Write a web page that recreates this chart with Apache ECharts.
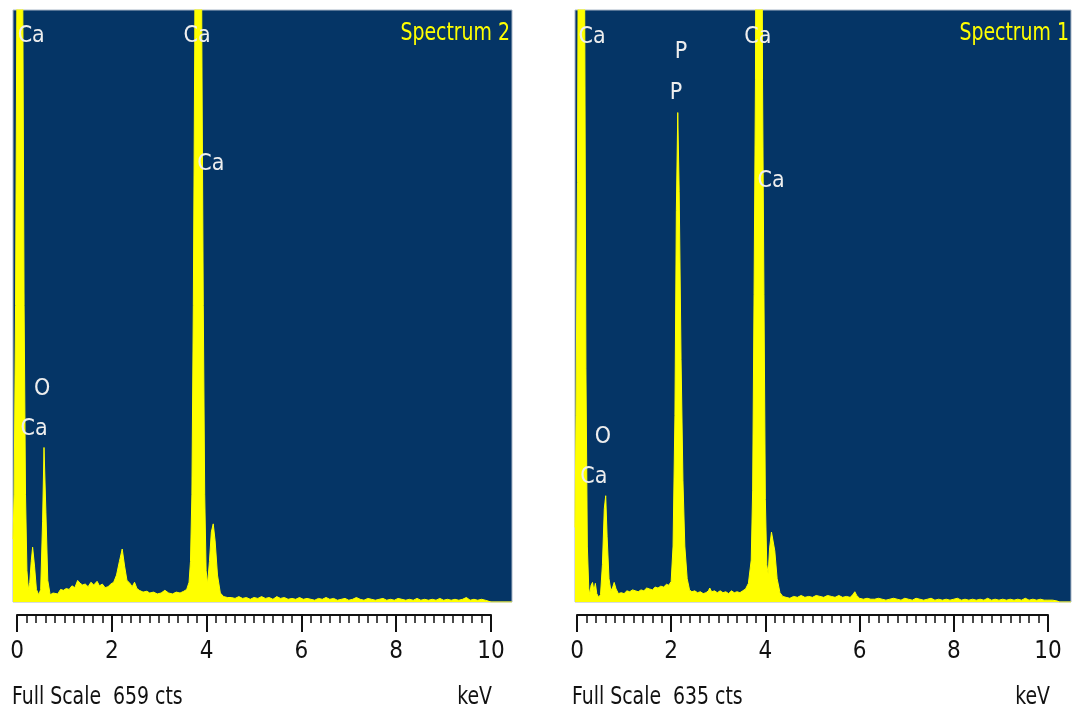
<!DOCTYPE html>
<html>
<head>
<meta charset="utf-8">
<title>EDS spectra</title>
<script src="https://cdn.jsdelivr.net/npm/echarts/dist/echarts.min.js"></script>
<style>
  html, body { margin: 0; padding: 0; background: #ffffff; }
  #chart { width: 1083px; height: 713px; }
</style>
</head>
<body>
<div id="chart"></div>
<script>
// Spectrum 2 (left panel): [keV, counts]
const spectrum2 = [
  [-0.084, 70], [-0.06, 120], [-0.03, 330], [0.0, 700], [0.03, 1150], [0.06, 1400], [0.09, 1150],
  [0.12, 700], [0.15, 330], [0.18, 120], [0.21, 35], [0.24, 14], [0.27, 22], [0.30, 45],
  [0.33, 61], [0.37, 40], [0.41, 14], [0.46, 8], [0.50, 14], [0.54, 90], [0.57, 172],
  [0.61, 100], [0.65, 24], [0.70, 8], [0.76, 10], [0.80, 12], [0.86, 9], [0.92, 14],
  [0.98, 13], [1.04, 15], [1.10, 14], [1.16, 18], [1.22, 16], [1.28, 24], [1.33, 21],
  [1.38, 19], [1.44, 20], [1.50, 17], [1.56, 22], [1.62, 19], [1.69, 23], [1.74, 18],
  [1.80, 20], [1.86, 16], [1.92, 17], [1.98, 20], [2.04, 22], [2.10, 30], [2.16, 45],
  [2.22, 59], [2.27, 40], [2.32, 24], [2.38, 21], [2.43, 17], [2.48, 22], [2.53, 15],
  [2.58, 13], [2.66, 11], [2.74, 12], [2.80, 10], [2.88, 11], [2.96, 9], [3.04, 10],
  [3.12, 13], [3.20, 10], [3.28, 9], [3.36, 11], [3.44, 10], [3.52, 12], [3.58, 14],
  [3.63, 22], [3.66, 45], [3.69, 120], [3.72, 330], [3.75, 620], [3.78, 1100], [3.81, 1400],
  [3.84, 1400], [3.87, 1100], [3.90, 620], [3.93, 330], [3.96, 120], [3.99, 35], [4.02, 20],
  [4.06, 45], [4.10, 78], [4.14, 87], [4.18, 68], [4.23, 30], [4.29, 10], [4.36, 6],
  [4.44, 5], [4.52, 5], [4.60, 4], [4.68, 6], [4.76, 4], [4.84, 5], [4.92, 3],
  [5.00, 5], [5.08, 4], [5.16, 6], [5.24, 4], [5.32, 5], [5.40, 3], [5.48, 6],
  [5.56, 4], [5.64, 5], [5.72, 3], [5.80, 4], [5.88, 3], [5.96, 5], [6.04, 3],
  [6.12, 4], [6.20, 3], [6.28, 2], [6.36, 4], [6.44, 3], [6.52, 5], [6.60, 3],
  [6.68, 4], [6.76, 2], [6.84, 3], [6.92, 4], [7.00, 2], [7.08, 3], [7.16, 5],
  [7.24, 3], [7.32, 2], [7.40, 4], [7.48, 3], [7.56, 2], [7.64, 3], [7.72, 4],
  [7.80, 2], [7.88, 3], [7.96, 2], [8.04, 4], [8.12, 3], [8.20, 2], [8.28, 3],
  [8.36, 2], [8.44, 4], [8.52, 2], [8.60, 3], [8.68, 2], [8.76, 3], [8.84, 2],
  [8.92, 4], [9.00, 2], [9.08, 3], [9.16, 2], [9.24, 3], [9.32, 2], [9.40, 3],
  [9.48, 5], [9.56, 2], [9.64, 3], [9.72, 2], [9.80, 3], [9.88, 2], [9.94, 1],
  [10.00, 0], [10.44, 0]
];

// Spectrum 1 (right panel): [keV, counts]
const spectrum1 = [
  [-0.042, 80], [-0.02, 200], [0.01, 450], [0.04, 900], [0.07, 1250], [0.10, 1400],
  [0.13, 1250], [0.16, 700], [0.19, 250], [0.22, 60], [0.25, 15], [0.27, 8], [0.30, 18], [0.33, 21],
  [0.36, 12], [0.39, 20], [0.42, 9], [0.46, 5], [0.50, 8], [0.54, 40], [0.58, 100],
  [0.61, 114], [0.64, 70], [0.68, 25], [0.72, 12], [0.76, 16], [0.79, 21], [0.83, 14],
  [0.88, 9], [0.94, 10], [1.00, 9], [1.06, 12], [1.12, 11], [1.18, 13], [1.24, 12],
  [1.30, 11], [1.36, 13], [1.42, 12], [1.48, 15], [1.54, 14], [1.60, 13], [1.66, 16],
  [1.72, 15], [1.78, 17], [1.84, 16], [1.90, 19], [1.95, 18], [2.00, 22], [2.04, 60],
  [2.08, 200], [2.11, 420], [2.14, 525], [2.17, 440], [2.21, 260], [2.25, 130], [2.29, 60],
  [2.34, 25], [2.39, 13], [2.44, 11], [2.50, 12], [2.56, 10], [2.62, 11], [2.68, 9],
  [2.74, 10], [2.79, 12], [2.82, 15], [2.86, 11], [2.92, 12], [2.98, 10], [3.04, 12],
  [3.10, 10], [3.16, 11], [3.22, 9], [3.28, 12], [3.34, 10], [3.40, 11], [3.46, 10],
  [3.52, 12], [3.58, 14], [3.64, 20], [3.70, 45], [3.73, 120], [3.76, 330], [3.79, 560],
  [3.82, 1100], [3.85, 1400], [3.88, 1400], [3.91, 1100], [3.94, 560], [3.97, 330],
  [4.00, 110], [4.03, 40], [4.06, 30], [4.09, 58], [4.13, 75], [4.16, 77], [4.20, 55],
  [4.25, 25], [4.31, 10], [4.37, 6], [4.44, 5], [4.52, 4], [4.60, 6], [4.68, 5],
  [4.76, 7], [4.84, 5], [4.92, 6], [5.00, 5], [5.08, 7], [5.16, 6], [5.24, 5],
  [5.32, 7], [5.40, 6], [5.48, 5], [5.56, 7], [5.64, 5], [5.72, 6], [5.80, 5],
  [5.86, 8], [5.90, 11], [5.94, 7], [6.00, 4], [6.08, 3], [6.16, 4], [6.24, 3],
  [6.32, 3], [6.40, 4], [6.48, 3], [6.56, 2], [6.64, 3], [6.72, 4], [6.80, 3],
  [6.88, 2], [6.96, 4], [7.04, 3], [7.12, 2], [7.20, 4], [7.28, 3], [7.36, 2],
  [7.44, 3], [7.52, 4], [7.60, 2], [7.68, 3], [7.76, 2], [7.84, 3], [7.92, 2],
  [8.00, 3], [8.08, 4], [8.16, 2], [8.24, 3], [8.32, 2], [8.40, 3], [8.48, 2],
  [8.56, 3], [8.64, 2], [8.72, 4], [8.80, 2], [8.88, 3], [8.96, 2], [9.04, 3],
  [9.12, 2], [9.20, 3], [9.28, 2], [9.36, 3], [9.44, 2], [9.52, 4], [9.60, 2],
  [9.68, 3], [9.76, 2], [9.84, 3], [9.92, 2], [10.00, 2], [10.10, 2], [10.20, 1],
  [10.25, 0], [10.49, 0]
];

// peak labels: [keV, counts, element]
const labels2 = [[0.30, 630, 'Ca'], [3.80, 630, 'Ca'], [4.09, 487, 'Ca'], [0.53, 237, 'O'], [0.36, 192, 'Ca']];
const labels1 = [[0.32, 606, 'Ca'], [2.21, 590, 'P'], [2.10, 546, 'P'], [3.84, 606, 'Ca'], [4.12, 452, 'Ca'], [0.55, 177, 'O'], [0.36, 134, 'Ca']];

const fullScale2 = 659;
const fullScale1 = 635;
const keVTicks = [0, 10, 2]; // min, max, step of the ruler

const font = '"DejaVu Sans Condensed", "Liberation Sans Narrow", sans-serif';
const blue = '#053566';
const yellow = '#ffff00';
const squeeze = 0.84; // the source text is horizontally narrow

const chart = echarts.init(document.getElementById('chart'));

function rulerAxis(gridIndex) {
  return {
    gridIndex: gridIndex,
    type: 'value',
    position: 'bottom',
    min: keVTicks[0],
    max: keVTicks[1],
    interval: keVTicks[2],
    axisLine: { show: true, lineStyle: { color: '#111', width: 2 } },
    axisTick: { show: true, length: 17, lineStyle: { color: '#111', width: 2 } },
    minorTick: { show: true, splitNumber: 10, length: 8, lineStyle: { color: '#111', width: 1.5 } },
    axisLabel: { fontFamily: font, fontSize: 24, color: '#111', margin: 25 },
    splitLine: { show: false }
  };
}

function spectrumSeries(idx, data, labels) {
  return {
    type: 'line',
    xAxisIndex: idx,
    yAxisIndex: idx,
    data: data,
    symbol: 'none',
    clip: true,
    lineStyle: { color: yellow, width: 1 },
    areaStyle: { color: yellow, opacity: 1 },
    markPoint: {
      symbol: 'circle',
      symbolSize: 0,
      silent: true,
      label: {
        show: true,
        position: 'inside',
        formatter: (p) => p.name,
        color: '#eeeeee',
        fontFamily: font,
        fontSize: 23
      },
      data: labels.map(([x, y, t]) => ({ name: t, coord: [x, y] }))
    }
  };
}

function note(x, y, text, color, align) {
  return {
    type: 'text', x: x, y: y, scaleX: squeeze,
    style: { text: text, fill: color, font: '25px ' + font, align: align, verticalAlign: 'middle' }
  };
}

const option = {
  animation: false,
  backgroundColor: '#ffffff',
  grid: [
    { left: 13, top: 10, width: 499, height: 592, show: true, backgroundColor: blue, borderColor: '#a9b6c6', borderWidth: 1 },
    { left: 575, top: 10, width: 496, height: 592, show: true, backgroundColor: blue, borderColor: '#a9b6c6', borderWidth: 1 },
    { left: 17, top: 10, width: 474, height: 605 },
    { left: 577, top: 10, width: 471, height: 605 }
  ],
  xAxis: [
    { gridIndex: 0, type: 'value', min: -0.084, max: 10.443, show: false },
    { gridIndex: 1, type: 'value', min: -0.042, max: 10.49, show: false },
    rulerAxis(2),
    rulerAxis(3)
  ],
  yAxis: [
    { gridIndex: 0, type: 'value', min: 0, max: fullScale2, show: false },
    { gridIndex: 1, type: 'value', min: 0, max: fullScale1, show: false },
    { gridIndex: 2, type: 'value', show: false },
    { gridIndex: 3, type: 'value', show: false }
  ],
  series: [
    spectrumSeries(0, spectrum2, labels2),
    spectrumSeries(1, spectrum1, labels1)
  ],
  graphic: [
    note(510, 33, 'Spectrum 2', yellow, 'right'),
    note(1069, 33, 'Spectrum 1', yellow, 'right'),
    note(12, 697, 'Full Scale  ' + fullScale2 + ' cts', '#111', 'left'),
    note(492, 697, 'keV', '#111', 'right'),
    note(572, 697, 'Full Scale  ' + fullScale1 + ' cts', '#111', 'left'),
    note(1050, 697, 'keV', '#111', 'right')
  ]
};

chart.setOption(option);
window.addEventListener('resize', () => chart.resize());
</script>
</body>
</html>
